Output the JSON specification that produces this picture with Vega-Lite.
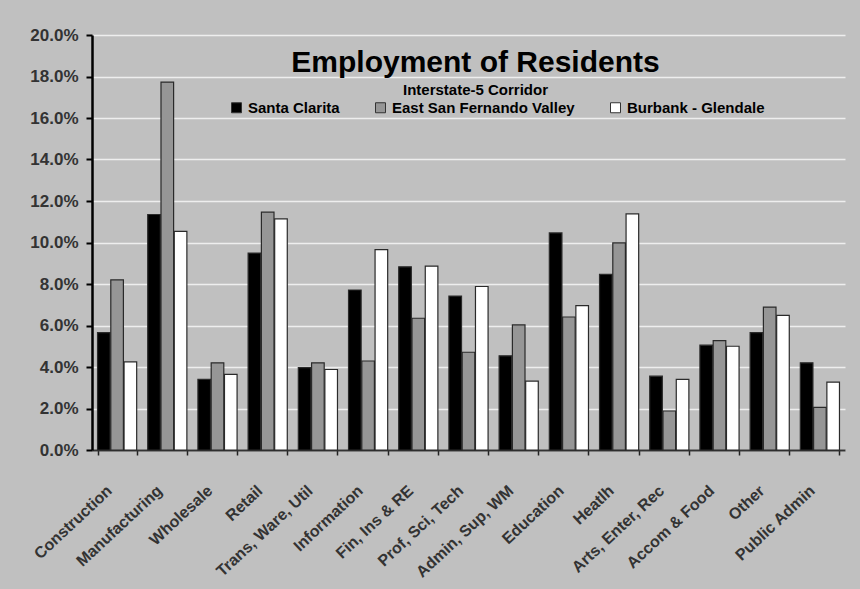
{
  "$schema": "https://vega.github.io/schema/vega-lite/v6.json",
  "autosize": "none",
  "width": 753,
  "height": 415,
  "padding": {"left": 92, "top": 35, "right": 15, "bottom": 139},
  "background": "#c0c0c0",
  "title": {
    "text": "Employment of Residents",
    "subtitle": "Interstate-5 Corridor",
    "anchor": "middle",
    "frame": "group",
    "offset": -72,
    "dx": 7,
    "font": "Liberation Sans",
    "fontSize": 30,
    "fontWeight": "bold",
    "color": "#000000",
    "subtitleFont": "Liberation Sans",
    "subtitleFontSize": 15,
    "subtitleFontWeight": "bold",
    "subtitleColor": "#000000",
    "subtitlePadding": 5
  },
  "config": {
    "view": {"stroke": null},
    "font": "Liberation Sans"
  },
  "data": {
    "values": [
      {"category": "Construction", "series": "Santa Clarita", "value": 0.0566},
      {"category": "Construction", "series": "East San Fernando Valley", "value": 0.082},
      {"category": "Construction", "series": "Burbank - Glendale", "value": 0.0425},
      {"category": "Manufacturing", "series": "Santa Clarita", "value": 0.1135},
      {"category": "Manufacturing", "series": "East San Fernando Valley", "value": 0.1773},
      {"category": "Manufacturing", "series": "Burbank - Glendale", "value": 0.1054},
      {"category": "Wholesale", "series": "Santa Clarita", "value": 0.0341},
      {"category": "Wholesale", "series": "East San Fernando Valley", "value": 0.042},
      {"category": "Wholesale", "series": "Burbank - Glendale", "value": 0.0364},
      {"category": "Retail", "series": "Santa Clarita", "value": 0.0949},
      {"category": "Retail", "series": "East San Fernando Valley", "value": 0.1146},
      {"category": "Retail", "series": "Burbank - Glendale", "value": 0.1114},
      {"category": "Trans, Ware, Util", "series": "Santa Clarita", "value": 0.0397},
      {"category": "Trans, Ware, Util", "series": "East San Fernando Valley", "value": 0.042},
      {"category": "Trans, Ware, Util", "series": "Burbank - Glendale", "value": 0.0388},
      {"category": "Information", "series": "Santa Clarita", "value": 0.0771},
      {"category": "Information", "series": "East San Fernando Valley", "value": 0.0429},
      {"category": "Information", "series": "Burbank - Glendale", "value": 0.0966},
      {"category": "Fin, Ins & RE", "series": "Santa Clarita", "value": 0.0883},
      {"category": "Fin, Ins & RE", "series": "East San Fernando Valley", "value": 0.0635},
      {"category": "Fin, Ins & RE", "series": "Burbank - Glendale", "value": 0.0886},
      {"category": "Prof, Sci, Tech", "series": "Santa Clarita", "value": 0.0742},
      {"category": "Prof, Sci, Tech", "series": "East San Fernando Valley", "value": 0.0471},
      {"category": "Prof, Sci, Tech", "series": "Burbank - Glendale", "value": 0.0788},
      {"category": "Admin, Sup, WM", "series": "Santa Clarita", "value": 0.0454},
      {"category": "Admin, Sup, WM", "series": "East San Fernando Valley", "value": 0.0603},
      {"category": "Admin, Sup, WM", "series": "Burbank - Glendale", "value": 0.0332},
      {"category": "Education", "series": "Santa Clarita", "value": 0.1046},
      {"category": "Education", "series": "East San Fernando Valley", "value": 0.0641},
      {"category": "Education", "series": "Burbank - Glendale", "value": 0.0696},
      {"category": "Heatlh", "series": "Santa Clarita", "value": 0.0846},
      {"category": "Heatlh", "series": "East San Fernando Valley", "value": 0.0998},
      {"category": "Heatlh", "series": "Burbank - Glendale", "value": 0.1138},
      {"category": "Arts, Enter, Rec", "series": "Santa Clarita", "value": 0.0356},
      {"category": "Arts, Enter, Rec", "series": "East San Fernando Valley", "value": 0.0188},
      {"category": "Arts, Enter, Rec", "series": "Burbank - Glendale", "value": 0.034},
      {"category": "Accom & Food", "series": "Santa Clarita", "value": 0.0505},
      {"category": "Accom & Food", "series": "East San Fernando Valley", "value": 0.0527},
      {"category": "Accom & Food", "series": "Burbank - Glendale", "value": 0.05},
      {"category": "Other", "series": "Santa Clarita", "value": 0.0566},
      {"category": "Other", "series": "East San Fernando Valley", "value": 0.0689},
      {"category": "Other", "series": "Burbank - Glendale", "value": 0.0649},
      {"category": "Public Admin", "series": "Santa Clarita", "value": 0.042},
      {"category": "Public Admin", "series": "East San Fernando Valley", "value": 0.0205},
      {"category": "Public Admin", "series": "Burbank - Glendale", "value": 0.0327}
    ]
  },
  "mark": {"type": "bar", "stroke": "#2a2a2a", "strokeWidth": 1.2},
  "encoding": {
    "x": {
      "field": "category",
      "type": "nominal",
      "sort": null,
      "scale": {"paddingInner": 0.22, "paddingOuter": 0.11},
      "axis": {
        "title": null,
        "labelAngle": -43,
        "labelAlign": "right",
        "labelBaseline": "middle",
        "labelFont": "Liberation Sans",
        "labelFontSize": 16,
        "labelFontWeight": "bold",
        "labelColor": "#333333",
        "labelPadding": 33,
        "labelOffset": -8,
        "tickBand": "extent",
        "tickSize": 5,
        "tickColor": "#222222",
        "tickWidth": 1.5,
        "domainColor": "#333333",
        "domainWidth": 2,
        "grid": false
      }
    },
    "xOffset": {
      "field": "series",
      "type": "nominal",
      "scale": {"domain": ["Santa Clarita", "East San Fernando Valley", "Burbank - Glendale"], "paddingInner": 0.05}
    },
    "y": {
      "field": "value",
      "type": "quantitative",
      "scale": {"domain": [0, 0.2], "nice": false},
      "axis": {
        "title": null,
        "format": ".1%",
        "values": [0, 0.02, 0.04, 0.06, 0.08, 0.1, 0.12, 0.14, 0.16, 0.18, 0.2],
        "labelFont": "Liberation Sans",
        "labelFontSize": 17,
        "labelFontWeight": "bold",
        "labelColor": "#333333",
        "labelPadding": 8,
        "tickSize": 6,
        "tickColor": "#000000",
        "tickWidth": 2,
        "domainColor": "#000000",
        "domainWidth": 2.5,
        "grid": true,
        "gridColor": "#eeeeee",
        "gridWidth": 1.5
      }
    },
    "color": {
      "field": "series",
      "type": "nominal",
      "scale": {
        "domain": ["Santa Clarita", "East San Fernando Valley", "Burbank - Glendale"],
        "range": ["#000000", "#969696", "#ffffff"]
      },
      "legend": {
        "title": null,
        "orient": "none",
        "direction": "horizontal",
        "legendX": 137,
        "legendY": 65,
        "padding": 0,
        "symbolType": "square",
        "symbolSize": 100,
        "symbolStrokeColor": "#333333",
        "symbolStrokeWidth": 1,
        "symbolOpacity": 1,
        "labelFont": "Liberation Sans",
        "labelFontSize": 15,
        "labelFontWeight": "bold",
        "labelColor": "#000000",
        "labelOffset": 4,
        "labelLimit": 400,
        "columnPadding": 33
      }
    }
  }
}
